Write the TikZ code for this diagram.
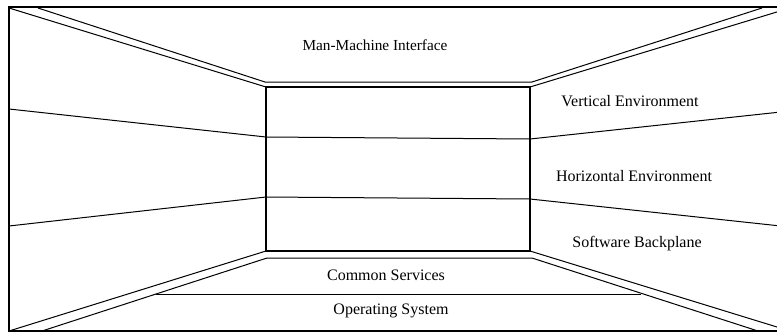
\documentclass[tikz,border=0pt]{standalone}
\usepackage{fontspec}
\setmainfont{Liberation Serif}
\begin{document}
\begin{tikzpicture}[x=1pt,y=-1pt,
  thin line/.style={line width=1pt,black},
  frame line/.style={line width=1.4pt,black},
  core line/.style={line width=2.6pt,black},
  lbl/.style={font=\fontsize{16}{19}\selectfont,inner sep=0pt,anchor=center}]
\useasboundingbox (0,0) rectangle (777,333);
\clip (0,0) rectangle (777,333);
% outer frame (right edge lies beyond the picture)
\draw[frame line] (9,7) rectangle (790,331);
% corner double lines
\draw[thin line] (9,8) -- (266,87);
\draw[thin line] (38,8) -- (265,82) -- (532,82) -- (762,8);
\draw[thin line] (790,8) -- (530,87);
\draw[thin line] (9,331) -- (266,251);
\draw[thin line] (42,331) -- (267,258) -- (532,258) -- (758,331);
\draw[thin line] (790,331) -- (530,251);
% side lines
\draw[thin line] (9,109) -- (266,137) -- (530,139) -- (790,111);
\draw[thin line] (9,226) -- (266,197) -- (530,199) -- (790,227);
% operating system line
\draw[thin line] (156,294) -- (641,294);
% central rectangle
\draw[core line] (266,87) rectangle (530,251);
% labels
\node[lbl,font=\fontsize{15.3}{18}\selectfont] (mmi) at (375,45) {Man-Machine Interface};
\node[lbl] (ve) at (630,101) {Vertical Environment};
\node[lbl] (he) at (634,176) {Horizontal Environment};
\node[lbl] (sb) at (637,244) {Software Backplane};
\node[lbl] (cs) at (386,275) {Common Services};
\node[lbl] (os) at (391,311) {Operating System};
\end{tikzpicture}
\end{document}
